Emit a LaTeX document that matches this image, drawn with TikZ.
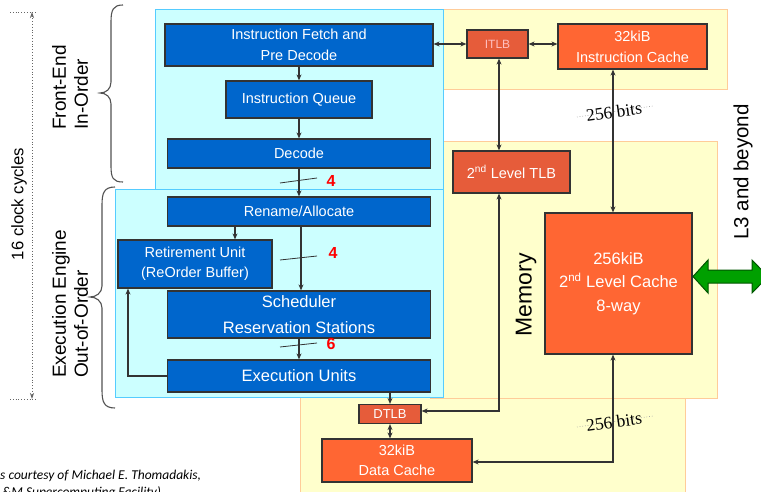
\documentclass[tikz,border=0pt]{standalone}
\usepackage{fontspec}
\setmainfont{Liberation Sans}
\newfontfamily\capfont{Carlito}
\newfontfamily\busfont{Liberation Serif}
\usetikzlibrary{arrows.meta}

\definecolor{cyanfill}{HTML}{CCFFFF}
\definecolor{cyanline}{HTML}{55CCFF}
\definecolor{yelfill}{HTML}{FFFFCC}
\definecolor{yelline}{HTML}{FFCC99}
\definecolor{unitblue}{HTML}{0066CC}
\definecolor{cacheorange}{HTML}{FF6633}
\definecolor{tlbred}{HTML}{E65C3A}
\definecolor{edgegray}{HTML}{333333}
\definecolor{greenfill}{HTML}{00A000}
\definecolor{greenline}{HTML}{005500}
\definecolor{widthred}{HTML}{FF0000}

\tikzset{
  region/.style={line width=1pt},
  frontreg/.style={region, draw=cyanline, fill=cyanfill},
  memreg/.style={region, draw=yelline, fill=yelfill},
  box/.style={draw=edgegray, line width=1.2pt, text=white, align=center,
    inner sep=0pt, font=\fontsize{14.5}{21}\selectfont},
  unit/.style={box, fill=unitblue},
  cachebox/.style={box, fill=cacheorange},
  tlbbox/.style={box, fill=tlbred},
  tip/.tip={Stealth[length=6pt,width=5pt]},
  link/.style={draw=edgegray, line width=1.2pt, -tip},
  dlink/.style={draw=edgegray, line width=1.2pt, tip-tip},
  slash/.style={draw=edgegray, line width=0.8pt},
  width/.style={text=widthred, font=\fontsize{16}{16}\selectfont\bfseries},
  brace/.style={draw=edgegray!85, line width=1.1pt},
  sidelabel/.style={rotate=90, align=left, inner sep=0pt, font=\fontsize{19}{22}\selectfont},
  buslabel/.style={rotate=8, inner sep=0pt, font=\busfont\fontsize{17.5}{17.5}\selectfont},
  busmark/.style={draw=gray!70, line width=0.7pt, dotted},
  credit/.style={anchor=base west, inner sep=0pt, font=\capfont\itshape\fontsize{13.5}{13.5}\selectfont},
}

\begin{document}
\begin{tikzpicture}[x=1pt,y=-1pt]
\useasboundingbox (0,0) rectangle (761,492);
\clip (0,0) rectangle (761,492);
\fill[white] (0,0) rectangle (761,492);

% memory-side regions
\draw[memreg] (300,390) rectangle (685,505);
\draw[memreg] (430,142) rectangle (717,398);
\draw[memreg] (430,10) rectangle (727,90);

% core regions
\draw[frontreg] (155,10) rectangle (443,191);
\draw[frontreg] (115,190) rectangle (443,397);

% front end
\node[unit, minimum width=268pt, minimum height=42pt] (fetch) at (299,45) {Instruction Fetch and\\Pre Decode};
\node[unit, minimum width=146pt, minimum height=37pt] (queue) at (299,99.5) {Instruction Queue};
\node[unit, minimum width=263pt, minimum height=29pt] (decode) at (299,153.5) {Decode};

% execution engine
\node[unit, minimum width=263pt, minimum height=29pt] (rename) at (299,211.5) {Rename/Allocate};
\node[unit, minimum width=154pt, minimum height=48pt, font=\fontsize{14.5}{20}\selectfont] (retire) at (195,264) {Retirement Unit\\(ReOrder Buffer)};
\node[unit, minimum width=263pt, minimum height=47pt, font=\fontsize{16.5}{26}\selectfont] (sched) at (299,314.5) {Scheduler\\Reservation Stations};
\node[unit, minimum width=263pt, minimum height=32pt, font=\fontsize{16.5}{20}\selectfont] (exec) at (299,376) {Execution Units};

% memory hierarchy
\node[tlbbox, minimum width=61pt, minimum height=28pt, text=red!25, font=\fontsize{12}{12}\selectfont] (itlb) at (497.5,44) {ITLB};
\node[cachebox, minimum width=149pt, minimum height=45pt] (icache) at (632.5,46.5) {32kiB\\Instruction Cache};
\node[tlbbox, minimum width=117pt, minimum height=42pt] (tlb2) at (511.5,172) {2\textsuperscript{nd} Level TLB};
\node[cachebox, minimum width=147pt, minimum height=141pt, font=\fontsize{16.5}{23.5}\selectfont] (l2) at (618.5,283.5) {256kiB\\2\textsuperscript{nd} Level Cache\\8-way};
\node[tlbbox, minimum width=62pt, minimum height=19pt, font=\fontsize{13}{13}\selectfont] (dtlb) at (390,414) {DTLB};
\node[cachebox, minimum width=150pt, minimum height=43pt, font=\fontsize{14.5}{20}\selectfont] (dcache) at (397,460.5) {32kiB\\Data Cache};

% pipeline flow
\draw[link] (fetch.south) -- (queue.north);
\draw[link] (queue.south) -- (decode.north);
\draw[link] (decode.south) -- (rename.north);
\draw[link] ([xshift=40pt]retire.north |- rename.south) -- ([xshift=40pt]retire.north);
\draw[link] ([xshift=2pt]rename.south) -- ([xshift=2pt]sched.north);
\draw[link] (sched.south) -- (exec.north);
\draw[link] (exec.west) -| ([xshift=-67pt]retire.south);

% issue widths
\draw[slash] (280,183) -- (317,178);
\draw[slash] (280,260) -- (317,256);
\draw[slash] (280,347) -- (317,343);
\node[width] (w1) at (331,181) {4};
\node[width] (w2) at (333,253) {4};
\node[width] (w3) at (331,344) {6};

% memory paths
\draw[dlink] (itlb.west -| fetch.east) -- (itlb.west);
\draw[dlink] (itlb.east) -- (itlb.east -| icache.west);
\draw[dlink] ([xshift=1.5pt]itlb.south) -- ([xshift=1.5pt]itlb.south |- tlb2.north);
\draw[dlink] ([xshift=-19.5pt]icache.south) -- ([xshift=-19.5pt]icache.south |- l2.north);
\draw[dlink] ([xshift=-12.5pt]tlb2.south) |- ([yshift=3pt]dtlb.east);
\draw[dlink] ([xshift=-5.5pt]l2.south) |- ([yshift=-1.5pt]dcache.east);
\draw[link] (dtlb.north |- exec.south) -- (dtlb.north);
\draw[dlink] (dtlb.south) -- (dtlb.south |- dcache.north);

% bus widths
\draw[busmark] (577,117) -- (653,106);
\node[buslabel] (bus1) at (614,112) {256 bits};
\draw[busmark] (577,427) -- (653,416);
\node[buslabel] (bus2) at (614,422) {256 bits};

% path to L3
\draw[fill=greenfill, draw=greenline, line width=1pt]
  (693,276.5) -- (708,260) -- (708,270) -- (752,270) -- (752,260) -- (768,276.5)
  -- (752,293) -- (752,283) -- (708,283) -- (708,293) -- cycle;

% labels
\node[rotate=90, font=\fontsize{23}{23}\selectfont] (memlabel) at (526,295) {Memory};
\node[rotate=90, font=\fontsize{20.5}{20.5}\selectfont] (l3label) at (743,172) {L3 and beyond};
\node[sidelabel, anchor=west] (felabel) at (70,130) {Front-End\\In-Order};
\node[sidelabel, anchor=west] (eelabel) at (70,378) {Execution Engine\\Out-of-Order};
\node[rotate=90, font=\fontsize{16.7}{16.7}\selectfont] (cyclelabel) at (19,204) {16 clock cycles};

% braces
\draw[brace] (123,5) .. controls (113,5) and (111,10) .. (111,22) -- (111,82)
  .. controls (111,89) and (106,93) .. (100,93)
  .. controls (106,93) and (111,97) .. (111,104) -- (111,166)
  .. controls (111,178) and (113,182) .. (123,182);
\draw[brace] (115,187) .. controls (104,187) and (102,193) .. (102,205) -- (102,286)
  .. controls (102,293) and (96,297) .. (90,297)
  .. controls (96,297) and (102,301) .. (102,308) -- (102,390)
  .. controls (102,402) and (104,408) .. (115,408);

% cycle span
\coordinate (ctop) at (32,12);
\coordinate (cbot) at (32,399);
\draw[gray!80!black, line width=0.8pt, dotted] (10,12) -- (37,12);
\draw[gray!80!black, line width=0.8pt, dotted] (10,399) -- (37,399);
\draw[gray!80!black, line width=0.8pt, dotted, {Stealth[length=6pt,width=4pt]}-{Stealth[length=6pt,width=4pt]}] (ctop) -- (cbot);

% credit
\node[credit] (credit1) at (0,479) {s courtesy of Michael E. Thomadakis,};
\node[credit] (credit2) at (2,496) {\&M Supercomputing Facility)};
\end{tikzpicture}
\end{document}
